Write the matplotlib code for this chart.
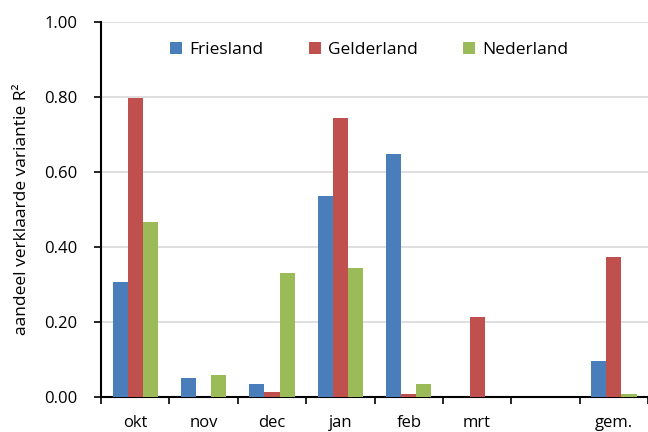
import matplotlib.pyplot as plt
import numpy as np

plt.rcParams['font.family'] = ['Open Sans', 'DejaVu Sans']

months = ["okt", "nov", "dec", "jan", "feb", "mrt", "", "gem."]
friesland = [0.307, 0.051, 0.035, 0.536, 0.648, 0.0, 0.0, 0.096]
gelderland = [0.797, 0.0, 0.012, 0.744, 0.007, 0.213, 0.0, 0.374]
nederland = [0.467, 0.058, 0.330, 0.344, 0.033, 0.0, 0.0, 0.007]

B = "#4a7ebb"
R = "#c0504d"
G = "#9bbb59"

fig = plt.figure(figsize=(6.48, 4.32), dpi=100)
ax = fig.add_axes([0.156, 0.0817, 0.844, 0.8667])

x = np.arange(len(months))
w = 0.222
ax.bar(x - w, friesland, w, color=B, label="Friesland", zorder=3)
ax.bar(x, gelderland, w, color=R, label="Gelderland", zorder=3)
ax.bar(x + w, nederland, w, color=G, label="Nederland", zorder=3)

ax.set_ylim(0, 1.0)
ax.set_xlim(-0.5, 7.43)
ax.set_yticks(np.arange(0, 1.01, 0.2))
ax.set_yticklabels([f"{v:.2f}" for v in np.arange(0, 1.01, 0.2)], fontsize=12)
ax.yaxis.grid(True, color="#d9d9d9", linewidth=1.2, zorder=0)
ax.set_xticks(x)
ax.set_xticklabels(months, fontsize=12)
ax.tick_params(axis="x", length=0, pad=13)
ax.set_xticks(np.arange(-0.5, 8, 1), minor=True)
ax.tick_params(axis="x", which="minor", length=5, width=1.2, direction="out")
ax.tick_params(axis="y", length=5, width=1.2, pad=12)

for s in ["top", "right"]:
    ax.spines[s].set_visible(False)
ax.spines["left"].set_linewidth(1.5)
ax.spines["bottom"].set_linewidth(1.5)

ax.set_ylabel("aandeel verklaarde variantie R²", fontsize=12.5, labelpad=10)

ax.legend(loc="upper center", bbox_to_anchor=(0.49, 0.99), ncol=3, frameon=False,
          fontsize=12.5, handlelength=0.7, handleheight=0.7, columnspacing=2.6, handletextpad=0.4)

plt.savefig("out.png")
